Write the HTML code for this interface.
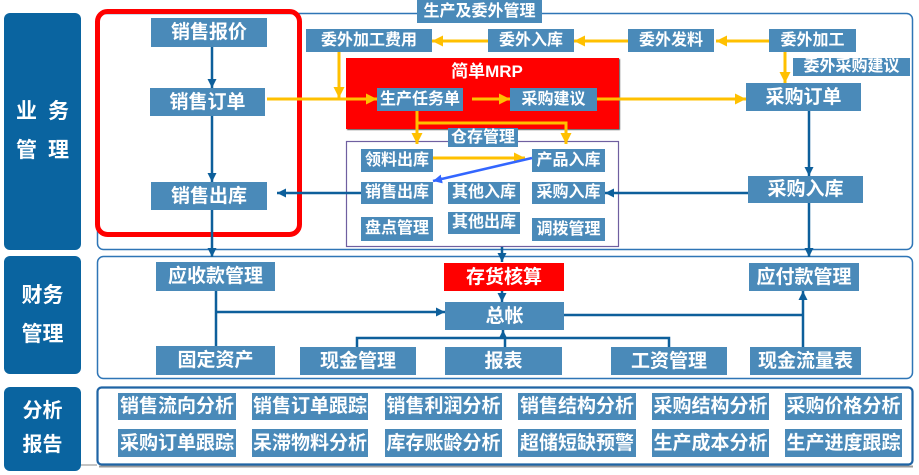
<!DOCTYPE html>
<html><head><meta charset="utf-8">
<style>
html,body{margin:0;padding:0;}
body{width:919px;height:475px;position:relative;overflow:hidden;background:#fff;font-family:"Liberation Sans","Noto Sans CJK SC",sans-serif;}
.n{position:absolute;background:#4a8ab9;color:#fff;font-weight:bold;display:flex;align-items:center;justify-content:center;white-space:nowrap;line-height:1;z-index:3;}
.r{background:#ff0000;}
.s{position:absolute;background:#0a64a0;border-radius:6px;color:#fff;font-weight:bold;z-index:3;}
.s div{position:absolute;left:0;width:77px;text-align:center;line-height:1;white-space:nowrap;}
svg{position:absolute;left:0;top:0;}
.f16{font-size:16px;}
.f17{font-size:17px;}
.f18{font-size:18px;}
.f19{font-size:19px;}
</style></head>
<body>
<!-- background shapes -->
<svg width="919" height="475" style="z-index:1">
  <rect x="97.5" y="13.5" width="815" height="236" rx="6" fill="#fff" stroke="#2e75b6" stroke-width="1.5"/>
  <rect x="97.5" y="256.5" width="815" height="122" rx="6" fill="#fff" stroke="#2e75b6" stroke-width="1.5"/>
  <line x1="99" y1="466.5" x2="913" y2="466.5" stroke="#9a9a9a" stroke-width="2"/>
  <rect x="97.5" y="387.5" width="815" height="77" rx="4" fill="#fff" stroke="#1f64a5" stroke-width="2.2"/>
  <line x1="81" y1="465" x2="97" y2="465" stroke="#888" stroke-width="1"/>
  <rect x="346" y="58" width="273" height="71" fill="#ff0000" style="filter:drop-shadow(1px 1px 0.5px #555)"/>
  <rect x="346.5" y="141.5" width="272" height="105" fill="#fff" stroke="#6f5fa0" stroke-width="1.2"/>
  <rect x="97.5" y="11.5" width="202" height="223" rx="10" fill="none" stroke="#ff0000" stroke-width="5"/>
</svg>

<!-- connectors -->
<svg width="919" height="475" style="z-index:4">
  <defs>
    <marker id="db" markerUnits="userSpaceOnUse" markerWidth="10" markerHeight="10" refX="9" refY="5" orient="auto"><path d="M0,0.5 L9,5 L0,9.5 z" fill="#0d5f9b"/></marker>
    <marker id="yl" markerUnits="userSpaceOnUse" markerWidth="12" markerHeight="12" refX="11" refY="6" orient="auto"><path d="M0,0.5 L11,6 L0,11.5 z" fill="#ffc000"/></marker>
    <marker id="bb" markerUnits="userSpaceOnUse" markerWidth="10" markerHeight="10" refX="9" refY="5" orient="auto"><path d="M0,0.5 L9,5 L0,9.5 z" fill="#3366ff"/></marker>
  </defs>
  <g stroke="#0d5f9b" stroke-width="2.5" fill="none">
    <line x1="212" y1="47" x2="212" y2="88" marker-end="url(#db)"/>
    <line x1="212" y1="116" x2="212" y2="182" marker-end="url(#db)"/>
    <line x1="212" y1="210" x2="212" y2="257" marker-end="url(#db)"/>
    <line x1="361" y1="193" x2="277" y2="193" marker-end="url(#db)"/>
    <line x1="809" y1="111" x2="809" y2="176" marker-end="url(#db)"/>
    <line x1="748" y1="193" x2="605" y2="193" marker-end="url(#db)"/>
    <line x1="809" y1="203" x2="809" y2="257" marker-end="url(#db)"/>
    <line x1="502" y1="247" x2="502" y2="262" marker-end="url(#db)"/>
    <line x1="502" y1="291" x2="502" y2="302" marker-end="url(#db)"/>
    <line x1="216" y1="291" x2="216" y2="346"/>
    <line x1="216" y1="312" x2="445" y2="312" marker-end="url(#db)"/>
    <polyline points="357,347 357,338 669,338 669,347"/>
    <line x1="505" y1="338" x2="505" y2="347"/>
    <line x1="503" y1="338" x2="503" y2="330" marker-end="url(#db)"/>
    <line x1="564" y1="315" x2="803" y2="315"/>
    <line x1="803" y1="347" x2="803" y2="291" marker-end="url(#db)"/>
  </g>
  <g stroke="#ffc000" stroke-width="3" fill="none">
    <line x1="769" y1="41" x2="716" y2="41" marker-end="url(#yl)"/>
    <line x1="628" y1="41" x2="574" y2="41" marker-end="url(#yl)"/>
    <line x1="488" y1="41" x2="432" y2="41" marker-end="url(#yl)"/>
    <line x1="785" y1="52" x2="785" y2="83" marker-end="url(#yl)"/>
    <line x1="339" y1="52" x2="339" y2="98" marker-end="url(#yl)"/>
    <line x1="267" y1="99" x2="377" y2="99" marker-end="url(#yl)"/>
    <line x1="472" y1="99" x2="510" y2="99" marker-end="url(#yl)"/>
    <line x1="597" y1="99" x2="746" y2="99" marker-end="url(#yl)"/>
    <line x1="417" y1="111" x2="417" y2="144" marker-end="url(#yl)"/>
    <polyline points="417,123 566,123 566,144" marker-end="url(#yl)"/>
    <line x1="433" y1="158" x2="525" y2="158" marker-end="url(#yl)"/>
  </g>
  <line x1="532" y1="158" x2="433" y2="181" stroke="#3366ff" stroke-width="2.5" marker-end="url(#bb)"/>
</svg>

<!-- sidebars -->
<div class="s" style="left:4px;top:13px;width:77px;height:237px;">
  <div style="top:88px;font-size:21px;letter-spacing:11px;text-indent:11px;">业务</div>
  <div style="top:127px;font-size:21px;letter-spacing:11px;text-indent:11px;">管理</div>
</div>
<div class="s" style="left:4px;top:256px;width:77px;height:118px;">
  <div style="top:29px;font-size:21px;">财务</div>
  <div style="top:68px;font-size:21px;">管理</div>
</div>
<div class="s" style="left:4px;top:387px;width:77px;height:84px;">
  <div style="top:14px;font-size:20px;">分析</div>
  <div style="top:48px;font-size:20px;">报告</div>
</div>

<!-- business nodes -->
<div class="n f19" style="left:151px;top:18px;width:116px;height:29px;">销售报价</div>
<div class="n f19" style="left:150px;top:88px;width:115px;height:28px;">销售订单</div>
<div class="n f19" style="left:151px;top:182px;width:116px;height:28px;">销售出库</div>

<div class="n f16" style="left:417px;top:0px;width:125px;height:23px;">生产及委外管理</div>
<div class="n f16" style="left:306px;top:29px;width:126px;height:23px;">委外加工费用</div>
<div class="n f16" style="left:488px;top:29px;width:86px;height:23px;">委外入库</div>
<div class="n f16" style="left:628px;top:29px;width:86px;height:23px;">委外发料</div>
<div class="n f16" style="left:769px;top:29px;width:87px;height:23px;">委外加工</div>
<div class="n f16" style="left:793px;top:58px;width:117px;height:18px;">委外采购建议</div>
<div class="n f19" style="left:746px;top:83px;width:115px;height:28px;">采购订单</div>
<div class="n f19" style="left:748px;top:176px;width:115px;height:27px;">采购入库</div>

<div style="position:absolute;left:430px;top:63px;width:114px;text-align:center;color:#fff;font-weight:bold;font-size:17px;line-height:1;z-index:3;">简单MRP</div>
<div class="n f16" style="left:377px;top:88px;width:86px;height:23px;">生产任务单</div>
<div class="n f16" style="left:510px;top:88px;width:87px;height:23px;">采购建议</div>

<div class="n f16" style="left:448px;top:128px;width:70px;height:19px;">仓存管理</div>
<div class="n f16" style="left:361px;top:149px;width:72px;height:23px;">领料出库</div>
<div class="n f16" style="left:532px;top:149px;width:73px;height:23px;">产品入库</div>
<div class="n f16" style="left:361px;top:182px;width:72px;height:22px;">销售出库</div>
<div class="n f16" style="left:448px;top:182px;width:72px;height:22px;">其他入库</div>
<div class="n f16" style="left:532px;top:182px;width:73px;height:22px;">采购入库</div>
<div class="n f16" style="left:361px;top:217px;width:72px;height:24px;">盘点管理</div>
<div class="n f16" style="left:448px;top:212px;width:72px;height:22px;">其他出库</div>
<div class="n f16" style="left:532px;top:218px;width:73px;height:23px;">调拨管理</div>

<!-- finance nodes -->
<div class="n f19" style="left:156px;top:262px;width:119px;height:29px;">应收款管理</div>
<div class="n f19" style="left:156px;top:346px;width:119px;height:29px;">固定资产</div>
<div class="n f19" style="left:300px;top:347px;width:116px;height:28px;">现金管理</div>
<div class="n f19 r" style="left:444px;top:263px;width:120px;height:28px;">存货核算</div>
<div class="n f19" style="left:445px;top:302px;width:119px;height:28px;">总帐</div>
<div class="n f19" style="left:445px;top:347px;width:117px;height:28px;">报表</div>
<div class="n f19" style="left:611px;top:347px;width:116px;height:28px;">工资管理</div>
<div class="n f19" style="left:749px;top:263px;width:110px;height:28px;">应付款管理</div>
<div class="n f19" style="left:750px;top:347px;width:111px;height:28px;">现金流量表</div>

<!-- analysis nodes -->
<div class="n f19" style="left:118px;top:393px;width:118px;height:27px;">销售流向分析</div>
<div class="n f19" style="left:252px;top:393px;width:116px;height:27px;">销售订单跟踪</div>
<div class="n f19" style="left:385px;top:393px;width:117px;height:27px;">销售利润分析</div>
<div class="n f19" style="left:518px;top:393px;width:118px;height:27px;">销售结构分析</div>
<div class="n f19" style="left:652px;top:393px;width:117px;height:27px;">采购结构分析</div>
<div class="n f19" style="left:785px;top:393px;width:117px;height:27px;">采购价格分析</div>
<div class="n f19" style="left:118px;top:429px;width:118px;height:28px;">采购订单跟踪</div>
<div class="n f19" style="left:252px;top:429px;width:116px;height:28px;">呆滞物料分析</div>
<div class="n f19" style="left:385px;top:429px;width:117px;height:28px;">库存账龄分析</div>
<div class="n f19" style="left:518px;top:429px;width:118px;height:28px;">超储短缺预警</div>
<div class="n f19" style="left:652px;top:429px;width:117px;height:28px;">生产成本分析</div>
<div class="n f19" style="left:785px;top:429px;width:117px;height:28px;">生产进度跟踪</div>
</body></html>
